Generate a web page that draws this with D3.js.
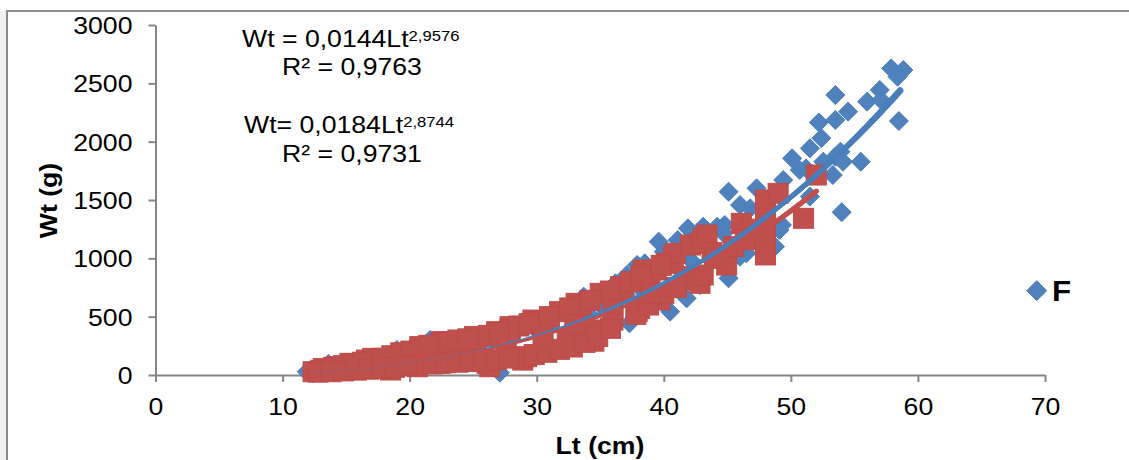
<!DOCTYPE html>
<html><head><meta charset="utf-8">
<script src="https://cdn.jsdelivr.net/npm/d3@7"></script>
<style>body{margin:0;background:#fff}svg{display:block}text{font-family:"Liberation Sans",Arial,sans-serif;fill:#000}</style>
</head><body><svg id="c" width="1129" height="460"></svg>
<script>
// ---- data ----
const xTicks = [0,10,20,30,40,50,60,70];
const yTicks = [0,500,1000,1500,2000,2500,3000];
const xTitle = "Lt (cm)";
const yTitle = "Wt (g)";
const legendLabel = "F";

// series 1 (blue diamonds)
const fLt = [57.9,58.85,58.4,53.5,56.0,57.0,57.1,54.5,53.5,58.5,52.2,52.4,51.5,50.1,53.9,53.5,54.1,55.5,52.55,51.2,53.3,49.4,47.3,45.1,46.0,46.8,51.5,49.3,54.0,41.9,39.6,44.8,44.2,48.75,46.5,45.1,42.85,41.4,41.1,40.0,38.5,37.9,37.1,36.2,33.7,32.0,40.5,37.3,41.8,44.7,49.1,46.0,43.1,42.1,39.3,50.7,
  11.9,12.4,13.6,14.5,15.5,16.5,17.5,18.5,19.0,20.0,21.0,21.6,22.5,23.8,24.5,25.5,26.5,27.1,28.0,29.1,29.1,30.0,31.0,33.0,34.0,35.0,36.0,37.0,38.0,39.0];
const fWt = [2628,2614,2557,2400,2343,2443,2357,2257,2186,2177,2165,2030,1943,1857,1914,1871,1828,1828,1828,1771,1714,1671,1600,1571,1457,1429,1529,1286,1395,1257,1143,1286,1271,1100,1043,829,771,843,1157,1057,957,943,857,786,671,571,543,443,657,1214,1243,1014,1271,986,620,1757,
  28,15,95,55,70,90,115,140,214,160,180,300,220,310,240,260,290,20,320,414,143,380,420,480,530,600,640,690,760,820];

// series 2 (red squares)
const mLt = [12.4,13.0,14.3,15.3,16.6,17.1,17.9,18.5,19.5,20.6,20.8,20.8,22.4,22.5,22.65,24.5,25.1,25.3,26.1,26.3,26.85,27.6,27.9,27.9,28.9,29.2,29.7,30.0,31.8,32.4,33.1,33.5,34.5,34.5,35.0,36.0,36.6,36.8,37.9,38.1,38.4,38.9,38.9,39.4,39.4,39.7,40.2,40.75,40.9,41.8,42.1,42.3,42.85,42.85,43.1,43.1,43.4,44.95,46.1,46.4,48.0,48.0,48.0,48.0,48.0,49.0,51.0,52.0,
  13.2,14.0,14.8,15.6,16.3,18.6,19.3,20.1,21.5,23.0,23.8,24.6,26.2,27.0,28.6,29.4,31.0,32.6,34.2,35.8,37.4,38.2,39.8,
  12.8,13.8,14.8,15.8,16.8,17.8,18.8,19.8,21.8,22.8,23.8,24.8,25.8,26.8,27.8,29.8,30.8,31.8,32.8,33.8,34.8,35.8,37.8,38.8,40.0,
  30.5,33.0,36.0,39.0,41.0,43.8,45.5,47.0,44.0];
const mWt = [28,40,71,100,128,143,143,43,186,71,214,243,100,286,271,186,329,300,100,71,371,186,414,386,128,157,471,457,543,300,614,600,386,290,700,471,757,714,543,571,900,871,814,671,900,643,957,1014,1043,843,1114,814,1129,786,1171,857,1200,943,1300,1160,1500,1343,1186,1114,1029,1557,1343,1714,
  55,65,80,95,110,165,190,205,255,285,300,310,340,365,420,440,500,575,640,720,800,850,940,
  25,28,35,42,50,58,65,80,95,105,110,115,118,130,145,175,195,220,240,280,330,400,520,600,700,
  330,430,560,700,750,1050,1100,1250,1000];

// power trendlines (from the equations printed on the chart)
const trendF = {a:0.0144, b:2.9576, from:12.2, to:58.6};
const trendM = {a:0.0184, b:2.8744, from:12.2, to:52.1};
const eqF = ["Wt = 0,0144Lt", "2,9576", "R² = 0,9763"];
const eqM = ["Wt= 0,0184Lt", "2,8744", "R² = 0,9731"];

// ---- drawing ----
const svg = d3.select("#c");
const blue = "#4a7ebb", blueFill = "#4f81bd", red = "#c0504d", redStroke = "#be4b48";
const axisCol = "#868686";
const K = 1.11; // horizontal text stretch

svg.append("rect").attr("width",1129).attr("height",460).attr("fill","#fff");
svg.append("rect").attr("x",0).attr("y",11).attr("width",7).attr("height",449).attr("fill","#f2f2f2");
svg.append("path").attr("d","M7,460V11H1129").attr("fill","none").attr("stroke","#8c8c8c").attr("stroke-width",2);

const x = d3.scaleLinear().domain([0,70]).range([155.5,1045]);
const y = d3.scaleLinear().domain([0,3000]).range([375,25]);

function stretch(t,k){
  t.each(function(){
    const s=d3.select(this); const tx=+s.attr("x")||0;
    s.attr("transform",`translate(${tx},0) scale(${k},1) translate(${-tx},0)`);
  });
}

const gy = svg.append("g").attr("transform",`translate(${x(0)},0)`)
  .call(d3.axisLeft(y).tickValues(yTicks).tickFormat(d3.format("d")).tickSize(7).tickSizeOuter(0).tickPadding(16));
const gx = svg.append("g").attr("transform",`translate(0,${y(0)})`)
  .call(d3.axisBottom(x).tickValues(xTicks).tickFormat(d3.format("d")).tickSize(7).tickSizeOuter(0).tickPadding(16));
[gy,gx].forEach(g=>{
  g.select(".domain").attr("stroke",axisCol).attr("stroke-width",2);
  g.selectAll(".tick line").attr("stroke",axisCol).attr("stroke-width",2);
  g.selectAll(".tick text").attr("font-size",24).attr("font-family","Liberation Sans, Arial, sans-serif").attr("fill","#000");
  stretch(g.selectAll(".tick text"),K);
});
gy.selectAll(".tick text").attr("dy","0.36em");

// markers
const diamond = d3.symbol().type(d3.symbolDiamond2);
const half = 9.5;
const dPath = `M0,${-half}L${half},0L0,${half}L${-half},0Z`;
svg.append("g").selectAll("path").data(fLt.map((L,i)=>[L,fWt[i]])).join("path")
  .attr("d",dPath).attr("transform",d=>`translate(${x(d[0])},${y(d[1])})`)
  .attr("fill",blueFill).attr("stroke",blue).attr("stroke-width",1);
const sq = 20;
svg.append("g").selectAll("rect").data(mLt.map((L,i)=>[L,mWt[i]])).join("rect")
  .attr("x",d=>x(d[0])-sq/2).attr("y",d=>y(d[1])-sq/2).attr("width",sq).attr("height",sq)
  .attr("fill",red).attr("stroke",redStroke).attr("stroke-width",1);

// trendlines with growing width
function trend(t,col){
  const g=svg.append("g");
  const pts=d3.range(t.from,t.to+0.001,0.2);
  for(let i=0;i<pts.length-1;i++){
    const L0=pts[i],L1=pts[i+1];
    const w=1.3+5.2*Math.pow(Math.max(0,(L0-12)/46.5),1.5);
    g.append("line").attr("x1",x(L0)).attr("y1",y(t.a*Math.pow(L0,t.b)))
      .attr("x2",x(L1)).attr("y2",y(t.a*Math.pow(L1,t.b)))
      .attr("stroke",col).attr("stroke-width",w).attr("stroke-linecap","round");
  }
}
trend(trendF,blue);
trend(trendM,red);

// equations
function eq(lines,xa,ya,xb,yb){
  const t=svg.append("text").attr("x",xa).attr("y",ya).attr("font-size",24);
  t.append("tspan").text(lines[0]);
  t.append("tspan").attr("font-size",15).attr("dy",-6).text(lines[1]);
  stretch(t,K);
  const r=svg.append("text").attr("x",xb).attr("y",yb).attr("font-size",24).text(lines[2]);
  stretch(r,K);
}
eq(eqF,242,47,282,75);
eq(eqM,244,133,282,162);

// axis titles
const xt=svg.append("text").attr("x",600).attr("y",454).attr("text-anchor","middle")
  .attr("font-size",24).attr("font-weight","bold").text(xTitle);
stretch(xt,K);
svg.append("text").attr("transform",`translate(57,200.5) rotate(-90) scale(${K},1)`)
  .attr("text-anchor","middle").attr("font-size",24).attr("font-weight","bold").text(yTitle);

// legend
svg.append("path").attr("d",`M0,-10L10,0L0,10L-10,0Z`).attr("transform","translate(1036.7,290.7)")
  .attr("fill",blueFill).attr("stroke",blue);
const lg=svg.append("text").attr("x",1052).attr("y",300.7).attr("font-size",29).attr("font-weight","bold").text(legendLabel);
stretch(lg,1.08);
</script></body></html>
